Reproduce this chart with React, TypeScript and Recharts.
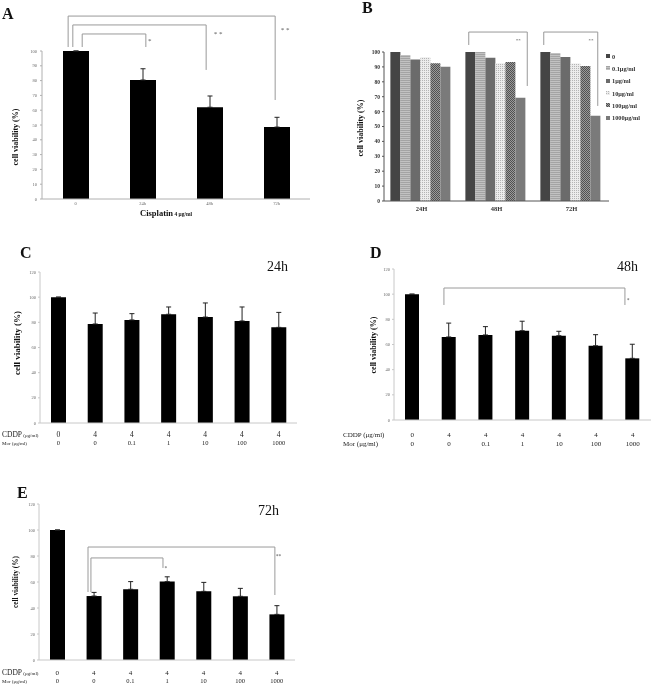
import React from "react";
import { BarChart, Bar, XAxis, YAxis, ErrorBar, ReferenceLine, ReferenceDot, Legend } from "recharts";

const SERIF = '"Liberation Serif", "Times New Roman", serif';

// panel A: cisplatin alone
const catsA = ["0", "24h", "48h", "72h"];
const viabA = [100, 80.4, 62, 48.6];
const sdA = [0, 7.6, 7.6, 6.6];

// panel B: morphine alone
const timesB = ["24H", "48H", "72H"];
const dosesB = ["0", "0.1μg/ml", "1μg/ml", "10μg/ml", "100μg/ml", "1000μg/ml"];
const b0 = [100, 100, 100];
const b01 = [98, 100, 99.3];
const b1 = [95, 96.2, 96.6];
const b10 = [96.4, 92.4, 92.2];
const b100 = [92.4, 93.3, 90.6];
const b1000 = [90.1, 69.3, 57.2];

// panels C-E: cisplatin + morphine
const cddp = ["0", "4", "4", "4", "4", "4", "4"];
const mor = ["0", "0", "0.1", "1", "10", "100", "1000"];
const viabC = [100, 78.7, 81.9, 86.4, 84.2, 81.1, 76];
const sdC = [0, 8.7, 5, 5.8, 11.2, 11.1, 11.9];
const viabD = [100, 66, 67.6, 71, 67, 59, 49];
const sdD = [0, 11, 6.6, 7.5, 3.5, 8.8, 11.2];
const viabE = [100, 49.2, 54.4, 60.3, 52.8, 49, 35.1];
const sdE = [0, 2.8, 5.9, 3.7, 6.9, 6.1, 6.7];

const ticks10 = [0, 10, 20, 30, 40, 50, 60, 70, 80, 90, 100];
const ticks20 = [0, 20, 40, 60, 80, 100, 120];

// significance brackets, x in category units (0 = left edge of first category)
type Bracket = { x1: number; x2: number; top: number; y1: number; y2: number; mark: string; mx: number; my: number };
const bracketsA: Bracket[] = [
  { x1: 0.39, x2: 3.48, top: 123.6, y1: 102.7, y2: 66.9, mark: "* *", mx: 3.63, my: 114.9 },
  { x1: 0.46, x2: 2.45, top: 117.6, y1: 102.7, y2: 87.2, mark: "* *", mx: 2.63, my: 112.8 },
  { x1: 0.6, x2: 1.55, top: 111.5, y1: 102.7, y2: 102.7, mark: "*", mx: 1.61, my: 108 },
];
const bracketsB: Bracket[] = [
  { x1: 1.13, x2: 1.91, top: 113.4, y1: 104.7, y2: 77.2, mark: "**", mx: 1.79, my: 108.7 },
  { x1: 2.13, x2: 2.85, top: 113.4, y1: 104.7, y2: 63.8, mark: "**", mx: 2.76, my: 108.7 },
];
const bracketsD: Bracket[] = [
  { x1: 1.36, x2: 6.29, top: 104.9, y1: 91.4, y2: 91.4, mark: "*", mx: 6.38, my: 96.2 },
];
const bracketsE: Bracket[] = [
  { x1: 1.34, x2: 6.45, top: 86.9, y1: 52.3, y2: 50, mark: "**", mx: 6.55, my: 80.8 },
  { x1: 1.42, x2: 3.39, top: 78.5, y1: 52.3, y2: 70.8, mark: "*", mx: 3.47, my: 71.5 },
];

const fillsB = ["#454545", "url(#pStripe)", "#6b6b6b", "url(#pDots)", "url(#pCheck)", "#7a7a7a"];
const keysB = ["d0", "d1", "d2", "d3", "d4", "d5"];

const dataA = catsA.map((name, i) => ({ name, pos: i + 0.5, v: viabA[i], err: [0, sdA[i]] }));
const dataB = timesB.map((name, i) => ({
  name, pos: i + 0.5, d0: b0[i], d1: b01[i], d2: b1[i], d3: b10[i], d4: b100[i], d5: b1000[i],
}));
const doseData = (v: number[], sd: number[]) =>
  v.map((x, i) => ({ id: i, pos: i + 0.5, v: x, err: [0, sd[i]] }));

function brackets(list: Bracket[], color: string, starSize: number) {
  const out: React.ReactNode[] = [];
  list.forEach((b, i) => {
    const seg = (k: string, a: { x: number; y: number }, c: { x: number; y: number }) => (
      <ReferenceLine key={k + i} xAxisId="n" segment={[a, c]} stroke={color} strokeWidth={1} ifOverflow="visible" />
    );
    out.push(seg("l", { x: b.x1, y: b.y1 }, { x: b.x1, y: b.top }));
    out.push(seg("t", { x: b.x1, y: b.top }, { x: b.x2, y: b.top }));
    out.push(seg("r", { x: b.x2, y: b.top }, { x: b.x2, y: b.y2 }));
    out.push(
      <ReferenceDot
        key={"s" + i}
        xAxisId="n"
        x={b.mx}
        y={b.my}
        ifOverflow="visible"
        shape={(p: any) => (
          <text x={p.cx} y={p.cy} dy="0.5em" textAnchor="middle" fontSize={starSize} fill="#555" fontFamily={SERIF}>
            {b.mark}
          </text>
        )}
      />
    );
  });
  return out;
}

function doseTick(o1: number, o2: number, f1: number, f2: number) {
  return (p: any) => {
    const i = Number(p.payload.value);
    return (
      <g>
        <text x={p.x} y={p.y + o1} textAnchor="middle" fontSize={f1} fontFamily={SERIF} fill="#222">{cddp[i]}</text>
        <text x={p.x} y={p.y + o2} textAnchor="middle" fontSize={f2} fontFamily={SERIF} fill="#222">{mor[i]}</text>
      </g>
    );
  };
}

const smallTick = { fontSize: 4.5, fill: "#666", fontFamily: SERIF };

function DosePanel(props: {
  left: number; top: number; width: number; height: number; mTop: number; mRight: number;
  yW: number; xH: number; viab: number[]; sd: number[]; br: Bracket[]; barSize: number;
  tick: (p: any) => React.ReactElement;
}) {
  const data = doseData(props.viab, props.sd);
  return (
    <div style={{ position: "absolute", left: props.left, top: props.top }}>
      <BarChart width={props.width} height={props.height} data={data}
        margin={{ top: props.mTop, right: props.mRight, bottom: 0, left: 0 }} barCategoryGap={0}>
        <XAxis dataKey="id" height={props.xH} interval={0} tickLine={false} tickSize={0} tickMargin={0}
          axisLine={{ stroke: "#c8c8c8" }} tick={props.tick} />
        <XAxis xAxisId="n" type="number" dataKey="pos" domain={[0, 7]} hide allowDataOverflow />
        <YAxis width={props.yW} domain={[0, 120]} ticks={ticks20} interval={0} tick={smallTick}
          axisLine={{ stroke: "#c8c8c8" }} tickLine={{ stroke: "#c8c8c8" }} tickSize={2} tickMargin={2} />
        <Bar dataKey="v" fill="#000" barSize={props.barSize} isAnimationActive={false}>
          <ErrorBar dataKey="err" width={2.5} stroke="#222" strokeWidth={1} />
        </Bar>
        {brackets(props.br, "#9a9a9a", 5.5)}
      </BarChart>
    </div>
  );
}

function LegendB() {
  return (
    <div style={{ fontFamily: SERIF, fontWeight: "bold", fontSize: 6.3, color: "#333" }}>
      {dosesB.map((d, i) => (
        <div key={d} style={{ height: 12.3, display: "flex", alignItems: "center", whiteSpace: "nowrap" }}>
          <svg width={4} height={4} style={{ marginRight: 2 }}>
            <rect width={4} height={4} fill={fillsB[i]} />
          </svg>
          {d}
        </div>
      ))}
    </div>
  );
}

export default function App() {
  return (
    <div style={{ position: "absolute", left: 0, top: 0, width: 651, height: 685, background: "#fff", overflow: "hidden", willChange: "transform" }}>
      {/* A */}
      <div style={{ position: "absolute", left: 0, top: 0 }}>
        <BarChart width={330} height={220} data={dataA} margin={{ top: 51, right: 20, bottom: 0, left: 0 }} barCategoryGap={0}>
          <XAxis dataKey="name" height={21} interval={0} tickLine={false} tickSize={0} tickMargin={3}
            axisLine={{ stroke: "#b0b0b0" }} tick={{ fontSize: 4.5, fill: "#666", fontFamily: SERIF }} />
          <XAxis xAxisId="n" type="number" dataKey="pos" domain={[0, 4]} hide allowDataOverflow />
          <YAxis width={42} domain={[0, 100]} ticks={ticks10} interval={0} tick={smallTick}
            axisLine={{ stroke: "#b0b0b0" }} tickLine={{ stroke: "#b0b0b0" }} tickSize={2} tickMargin={3} />
          <Bar dataKey="v" fill="#000" barSize={26} isAnimationActive={false}>
            <ErrorBar dataKey="err" width={2.5} stroke="#222" strokeWidth={1} />
          </Bar>
          {brackets(bracketsA, "#999", 7)}
        </BarChart>
      </div>

      {/* B */}
      <div style={{ position: "absolute", left: 330, top: 0 }}>
        <BarChart width={321} height={220} data={dataB} margin={{ top: 52, right: 42, bottom: 0, left: 0 }}
          barCategoryGap="8.5%" barGap={0}>
          <defs>
            <pattern id="pStripe" width={2} height={2} patternUnits="userSpaceOnUse">
              <rect width={2} height={2} fill="#c2c2c2" />
              <rect width={2} height={1} fill="#a4a4a4" />
            </pattern>
            <pattern id="pDots" width={2} height={2} patternUnits="userSpaceOnUse">
              <rect width={2} height={2} fill="#ececec" />
              <rect width={1} height={1} fill="#b4b4b4" />
            </pattern>
            <pattern id="pCheck" width={2} height={2} patternUnits="userSpaceOnUse">
              <rect width={2} height={2} fill="#9a9a9a" />
              <rect width={1} height={1} fill="#505050" />
              <rect x={1} y={1} width={1} height={1} fill="#505050" />
            </pattern>
          </defs>
          <XAxis dataKey="name" height={19} interval={0} tickLine={false} tickSize={0} tickMargin={5}
            axisLine={{ stroke: "#555" }} tick={{ fontSize: 6.5, fill: "#333", fontWeight: "bold", fontFamily: SERIF }} />
          <XAxis xAxisId="n" type="number" dataKey="pos" domain={[0, 3]} hide allowDataOverflow />
          <YAxis width={54} domain={[0, 100]} ticks={ticks10} interval={0}
            tick={{ fontSize: 5.5, fill: "#333", fontWeight: "bold", fontFamily: SERIF }}
            axisLine={{ stroke: "#555" }} tickLine={{ stroke: "#555" }} tickSize={2} tickMargin={2} />
          {keysB.map((k, i) => (
            <Bar key={k} dataKey={k} name={dosesB[i]} fill={fillsB[i]} isAnimationActive={false} />
          ))}
          <Legend layout="vertical" align="center" verticalAlign="middle"
            wrapperStyle={{ left: 276, top: 50, width: 45 }} content={() => <LegendB />} />
          {brackets(bracketsB, "#999", 5)}
        </BarChart>
      </div>

      {/* C */}
      <DosePanel left={0} top={220} width={330} height={235} mTop={52} mRight={33} yW={40} xH={32}
        viab={viabC} sd={sdC} br={[]} barSize={15} tick={doseTick(14, 22, 7.5, 6.5)} />
      {/* D */}
      <DosePanel left={320} top={220} width={331} height={235} mTop={49} mRight={0} yW={74} xH={35}
        viab={viabD} sd={sdD} br={bracketsD} barSize={14} tick={doseTick(17, 26, 7, 7)} />
      {/* E */}
      <DosePanel left={0} top={440} width={330} height={245} mTop={64} mRight={35} yW={39} xH={25}
        viab={viabE} sd={sdE} br={bracketsE} barSize={15} tick={doseTick(15, 23, 7, 6.5)} />

      {/* titles and axis captions */}
      <svg width={651} height={685} style={{ position: "absolute", left: 0, top: 0, pointerEvents: "none" }}
        fontFamily={SERIF}>
        <g fontWeight="bold" fontSize={16} fill="#111">
          <text x={2} y={19}>A</text>
          <text x={362} y={13}>B</text>
          <text x={20} y={258}>C</text>
          <text x={370} y={258}>D</text>
          <text x={17} y={498}>E</text>
        </g>
        <g fontSize={14} fill="#111">
          <text x={267} y={271}>24h</text>
          <text x={617} y={271}>48h</text>
          <text x={258} y={515}>72h</text>
        </g>
        <g fontWeight="bold" fill="#111" textAnchor="middle" dominantBaseline="central">
          <text x={15} y={137} fontSize={8} transform="rotate(-90 15 137)">cell viability (%)</text>
          <text x={360} y={128} fontSize={8} transform="rotate(-90 360 128)">cell viability (%)</text>
          <text x={17} y={343} fontSize={9} transform="rotate(-90 17 343)">cell viability (%)</text>
          <text x={373} y={345} fontSize={8} transform="rotate(-90 373 345)">cell viability (%)</text>
          <text x={15} y={582} fontSize={7.3} transform="rotate(-90 15 582)">cell viability (%)</text>
        </g>
        <text x={140} y={216} fontWeight="bold" fill="#111">
          <tspan fontSize={8.5}>Cisplatin</tspan>
          <tspan fontSize={5.5}> 4 μg/ml</tspan>
        </text>
        <g fill="#222">
          <text x={2} y={437}><tspan fontSize={7.5}>CDDP</tspan><tspan fontSize={5}> (μg/ml)</tspan></text>
          <text x={2} y={445} fontSize={5}>Mor (μg/ml)</text>
          <text x={343} y={437} fontSize={7}>CDDP (μg/ml)</text>
          <text x={343} y={446} fontSize={7}>Mor  (μg/ml)</text>
          <text x={2} y={675}><tspan fontSize={7.5}>CDDP</tspan><tspan fontSize={5}> (μg/ml)</tspan></text>
          <text x={2} y={683} fontSize={5}>Mor (μg/ml)</text>
        </g>
      </svg>
    </div>
  );
}
